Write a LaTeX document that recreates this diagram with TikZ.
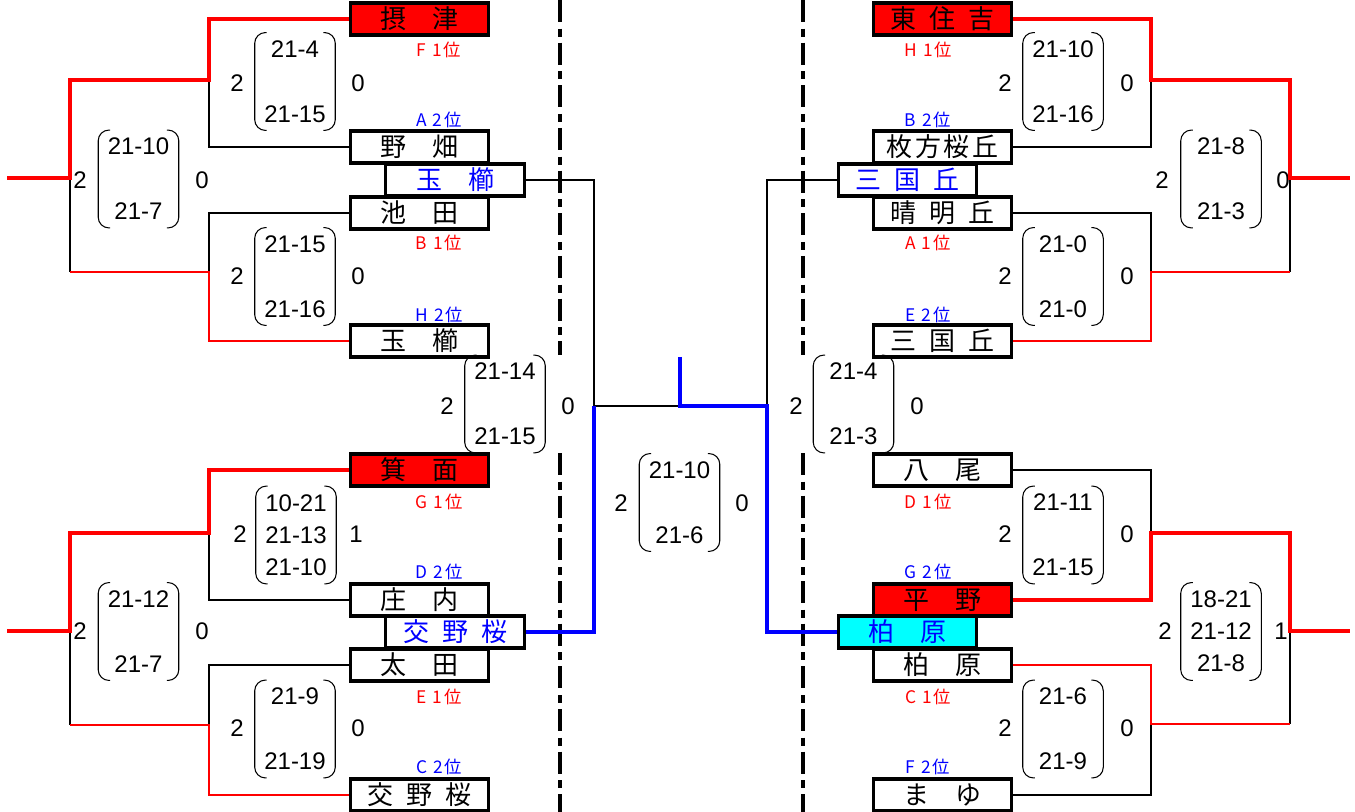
\documentclass[tikz,border=0pt]{standalone}
\usepackage{fontspec}
\setmainfont{Liberation Sans}
\newfontfamily\jp{Noto Sans CJK JP}
\usepackage{tikz}
\definecolor{aqua}{RGB}{0,255,255}

\begin{document}
\begin{tikzpicture}[x=0.75pt,y=-0.75pt,
  team/.style={draw,line width=2.4pt,fill=white,minimum width=104pt,minimum height=24pt,inner sep=0pt,font=\jp\fontsize{19.5}{20}\selectfont},
  winteam/.style={team,fill=red},
  advteam/.style={team,text=blue},
  score/.style={minimum width=60pt,minimum height=73pt,inner sep=0pt,align=center,font=\fontsize{18}{24}\selectfont},
  num/.style={inner sep=0pt,font=\fontsize{18}{20}\selectfont},
  rank/.style={inner sep=0pt,font=\jp\fontsize{13}{14}\selectfont},
  paren/.style={line width=0.8pt,rounded corners=8pt},
  lose/.style={line width=0.9pt},
  winthin/.style={red,line width=1.6pt},
  winthick/.style={red,line width=3pt},
  final/.style={blue,line width=3pt},
  sep/.style={line width=2.5pt,dash pattern=on 16.5pt off 5pt on 6pt off 4.5pt},
]
\useasboundingbox (0,0) rectangle (1355,812);

\draw[sep] (560,0) -- (560,355) (560,453) -- (560,812);
\draw[sep] (803,0) -- (803,355) (803,453) -- (803,812);

\node[winteam] (settsu) at (419.5,19) {摂　津};
\node[team] (nobata) at (419.5,147) {野　畑};
\node[advteam] (tamaA) at (455,180) {玉　櫛};
\node[team] (ikeda) at (419.5,213) {池　田};
\node[team] (tama) at (419.5,341) {玉　櫛};
\node[winteam] (minoo) at (419.5,470) {箕　面};
\node[team] (shonai) at (419.5,600) {庄　内};
\node[advteam] (katanoA) at (455,632) {交\hspace{.5em}野\hspace{.5em}桜};
\node[team] (ota) at (419.5,665) {太　田};
\node[team] (katano) at (419.5,795) {交\hspace{.5em}野\hspace{.5em}桜};

\node[winteam] (higashi) at (942.5,19) {東\hspace{.5em}住\hspace{.5em}吉};
\node[team] (hirakata) at (942.5,147) {枚\hspace{.1em}方\hspace{.1em}桜\hspace{.1em}丘};
\node[advteam] (mikuniA) at (907.5,180) {三\hspace{.5em}国\hspace{.5em}丘};
\node[team] (seimei) at (942.5,213) {晴\hspace{.5em}明\hspace{.5em}丘};
\node[team] (mikuni) at (942.5,341) {三\hspace{.5em}国\hspace{.5em}丘};
\node[team] (yao) at (942.5,470) {八　尾};
\node[winteam] (hirano) at (942.5,600) {平　野};
\node[advteam,fill=aqua] (kashiwaraA) at (907.5,632) {柏　原};
\node[team] (kashiwara) at (942.5,665) {柏　原};
\node[team] (mayu) at (942.5,795) {ま　ゆ};

\node[score] (s1) at (295,81.5) {21-4\\[24.75pt]21-15};
\node[score] (s2) at (295,276.5) {21-15\\[24.75pt]21-16};
\node[score] (s3) at (505,404) {21-14\\[24.75pt]21-15};
\node[score] (s4) at (296,535) {10-21\\21-13\\21-10};
\node[score] (s5) at (295,729) {21-9\\[24.75pt]21-19};
\node[score] (s6) at (138.5,179) {21-10\\[24.75pt]21-7};
\node[score] (s7) at (138.5,631.5) {21-12\\[24.75pt]21-7};
\node[score] (s8) at (679.5,502.5) {21-10\\[24.75pt]21-6};
\node[score] (s9) at (1063,81.5) {21-10\\[24.75pt]21-16};
\node[score] (s10) at (1063,276.5) {21-0\\[24.75pt]21-0};
\node[score] (s11) at (853.5,404) {21-4\\[24.75pt]21-3};
\node[score] (s12) at (1063,535) {21-11\\[24.75pt]21-15};
\node[score] (s13) at (1063,729) {21-6\\[24.75pt]21-9};
\node[score] (s14) at (1221,179) {21-8\\[24.75pt]21-3};
\node[score] (s15) at (1221,631.5) {18-21\\21-12\\21-8};
\foreach \s in {s1,s2,s3,s4,s5,s6,s7,s8,s9,s10,s11,s12,s13,s14,s15} {
  \draw[paren] ([xshift=9pt]\s.north west) -- (\s.north west) -- (\s.south west) -- ([xshift=9pt]\s.south west);
  \draw[paren] ([xshift=-9pt]\s.north east) -- (\s.north east) -- (\s.south east) -- ([xshift=-9pt]\s.south east);
}

\foreach \x/\y/\t [count=\i] in {237/83/2,358/83/0,237/276/2,358/276/0,447/406/2,568/406/0,240/534/2,356/534/1,
  237/728/2,358/728/0,80/180/2,202/180/0,80/631/2,202/631/0,621/503/2,742/503/0,
  1005/83/2,1127/83/0,1005/276/2,1127/276/0,796/406/2,917/406/0,1005/534/2,1127/534/0,
  1005/728/2,1127/728/0,1162/180/2,1283/180/0,1165/631/2,1281/631/1}
  \node[num] (num\i) at (\x,\y) {\t};

\foreach \x/\y/\g/\r/\c [count=\i] in {439/50/F/1/red,439/120/A/2/blue,439/243/B/1/red,439/315/H/2/blue,
  439/502/G/1/red,439/572/D/2/blue,439/697/E/1/red,439/767/C/2/blue,
  928/50/H/1/red,928/120/B/2/blue,928/243/A/1/red,928/315/E/2/blue,
  928/502/D/1/red,928/572/G/2/blue,928/697/C/1/red,928/767/F/2/blue}
  \node[rank,text=\c] (rank\i) at (\x,\y) {\g\hspace{.35em}\r\hspace{.1em}位};

\coordinate (jL1) at (209,80);
\coordinate (jL2) at (209,272);
\coordinate (jL3) at (209,533);
\coordinate (jL4) at (209,725);
\coordinate (qL1) at (70,178);
\coordinate (qL2) at (70,631);
\coordinate (outL1) at (7,178);
\coordinate (outL2) at (7,631);
\coordinate (jR1) at (1151,80);
\coordinate (jR2) at (1151,272);
\coordinate (jR3) at (1151,533);
\coordinate (jR4) at (1151,724);
\coordinate (qR1) at (1290,178);
\coordinate (qR2) at (1290,631);
\coordinate (outR1) at (1350,178);
\coordinate (outR2) at (1350,631);
\coordinate (cL) at (594,406);
\coordinate (cM) at (680,406);
\coordinate (cTop) at (680,357);
\coordinate (cR) at (767,406);

\draw[lose] (nobata.west) -| (jL1);
\draw[lose] (ikeda.west) -| (jL2);
\draw[lose] (jL2 -| qL1) -- (qL1);
\draw[lose,line width=1.6pt] (shonai.west) -| (jL3);
\draw[lose] (ota.west) -| (jL4);
\draw[lose] (jL4 -| qL2) -- (qL2);
\draw[winthick] (settsu.west) -| (jL1) -| (qL1) -- (outL1);
\draw[winthin] (tama.west) -| (jL2) -- (jL2 -| qL1);
\draw[winthick] (minoo.west) -| (jL3) -| (qL2) -- (outL2);
\draw[winthin] (katano.west) -| (jL4) -- (jL4 -| qL2);

\draw[lose] (hirakata.east) -| (jR1);
\draw[lose] (seimei.east) -| (jR2);
\draw[lose] (jR2 -| qR1) -- (qR1);
\draw[lose] (yao.east) -| (jR3);
\draw[lose] (mayu.east) -| (jR4);
\draw[lose] (jR4 -| qR2) -- (qR2);
\draw[winthick] (higashi.east) -| (jR1) -| (qR1) -- (outR1);
\draw[winthin] (mikuni.east) -| (jR2) -- (jR2 -| qR1);
\draw[winthick] (hirano.east) -| (jR3) -| (qR2) -- (outR2);
\draw[winthin] (kashiwara.east) -| (jR4) -- (jR4 -| qR2);

\draw[lose] (tamaA.east) -| (cL) -- (cM);
\draw[lose] (mikuniA.west) -| (cR);
\draw[final] (katanoA.east) -| (cL);
\draw[final] (cTop) -- (cM) -- (cR) |- (kashiwaraA.west);
\end{tikzpicture}
\end{document}
